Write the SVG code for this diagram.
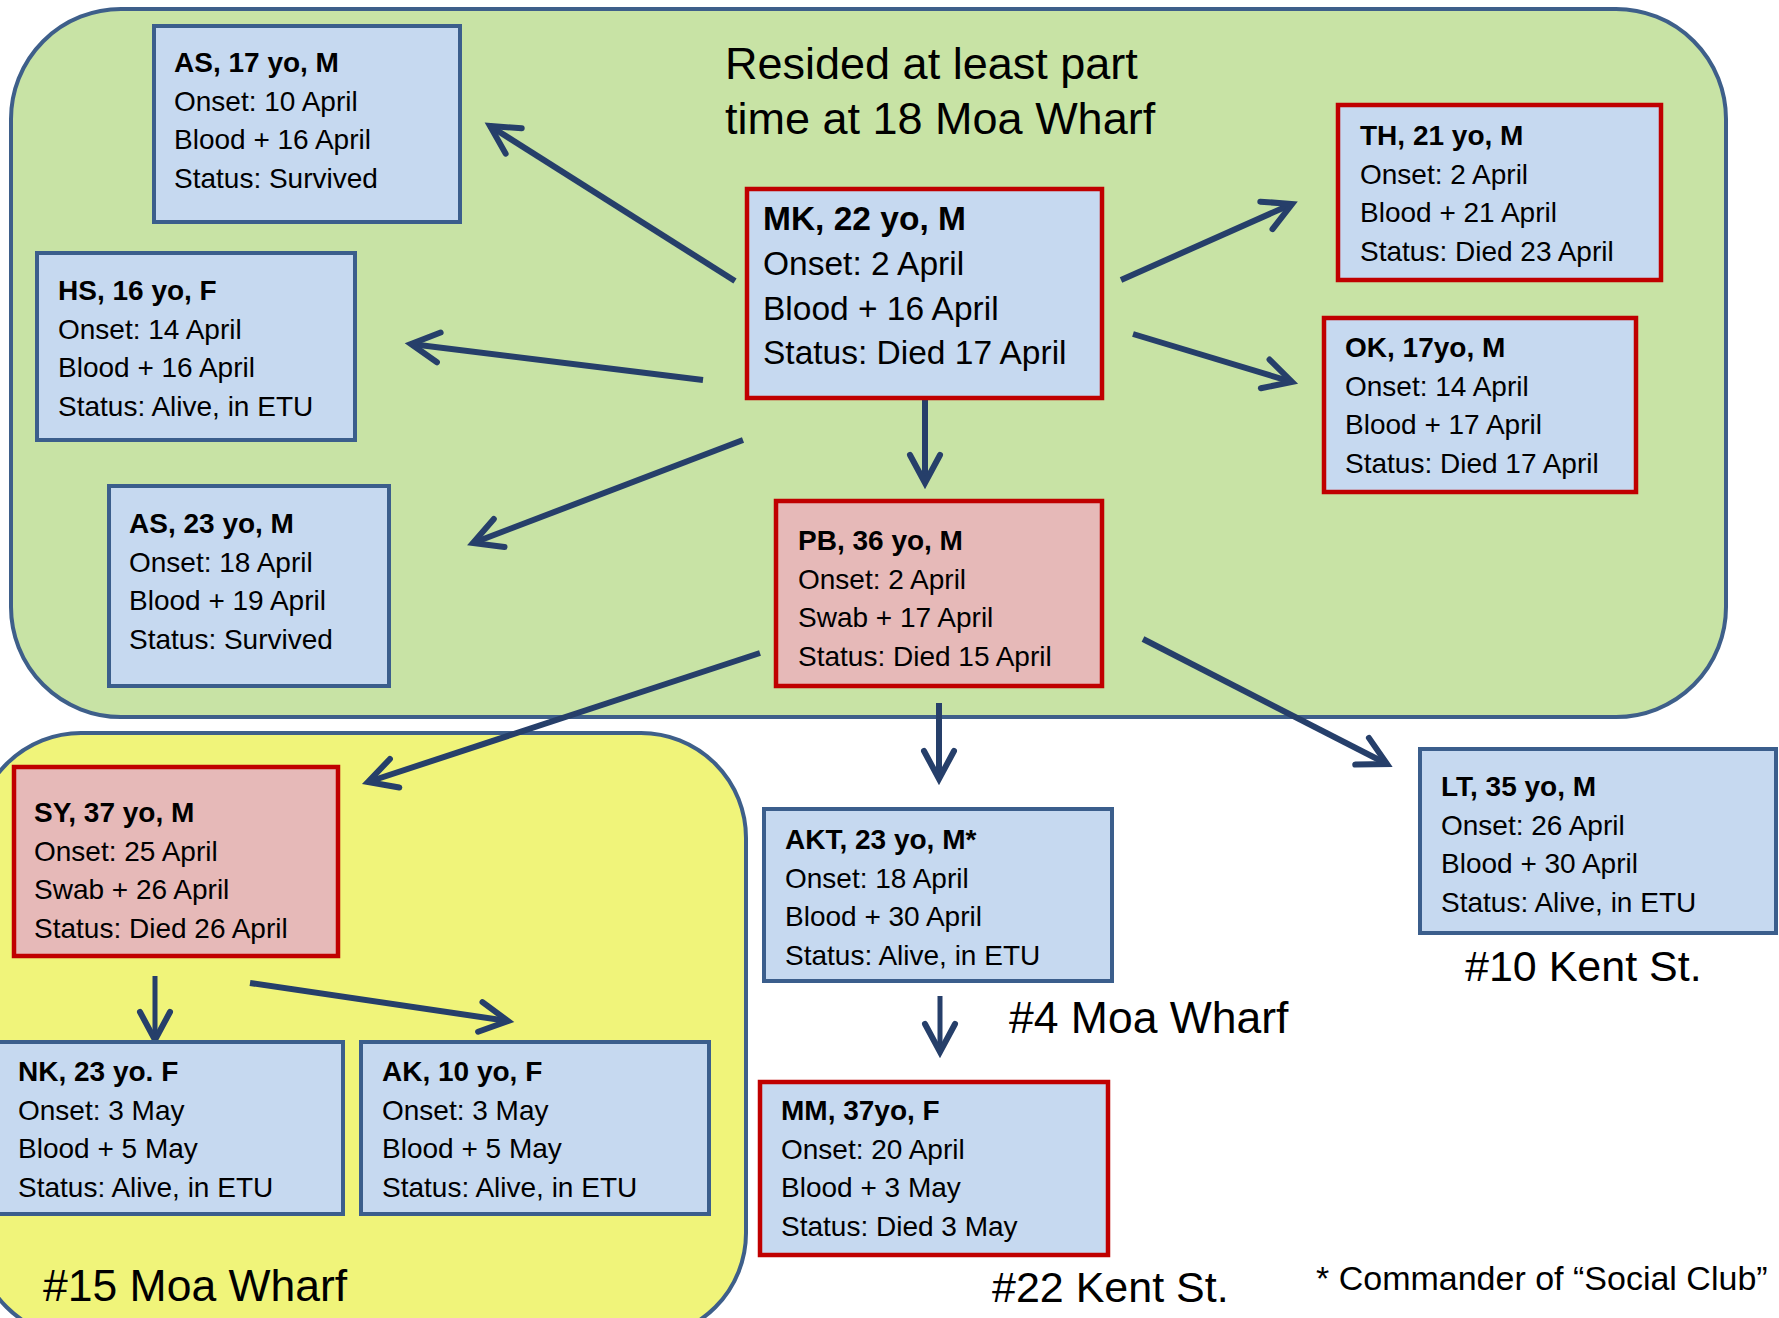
<svg xmlns="http://www.w3.org/2000/svg" width="1779" height="1318" viewBox="0 0 1779 1318">
<style>
  text { font-family: "Liberation Sans", Arial, sans-serif; fill: #000; }
  .b { font-size: 28px; }
  .big { font-size: 33.5px; }
  .t { font-weight: bold; }
  .box { fill: #c6d9f0; stroke: #3b5e8c; stroke-width: 4; }
  .red { fill: #c6d9f0; stroke: #c00000; stroke-width: 4.5; }
  .redf { fill: #e6b9b8; stroke: #c00000; stroke-width: 4.5; }
  .grp { stroke: #3e5f8a; stroke-width: 4; }
  .arr { fill: none; stroke: #263f6a; stroke-width: 6; marker-end: url(#ah); }
  .arr2 { fill: none; stroke: #263f6a; stroke-width: 5; marker-end: url(#ah); }
  .lbl { font-size: 43px; }
  .lbl2 { font-size: 44.5px; }
  .title { font-size: 45px; }
  .note { font-size: 34px; }
</style>
<defs>
  <marker id="ah" markerUnits="userSpaceOnUse" orient="auto" refX="0" refY="0" markerWidth="40" markerHeight="40" overflow="visible">
    <path d="M -28,-15 L 0,0 L -28,15" fill="none" stroke="#263f6a" stroke-width="6" stroke-linecap="round" stroke-linejoin="miter"/>
  </marker>
</defs>
<rect width="1779" height="1318" fill="#ffffff"/>

<g id="group-18-moa-wharf">
  <rect class="grp" x="11" y="9" width="1715" height="708" rx="110" ry="110" fill="#c8e3a5"/>
  <text class="title" x="725" y="79">Resided at least part</text>
  <text class="title" x="725" y="134">time at 18 Moa Wharf</text>
</g>
<g id="group-15-moa-wharf">
  <rect class="grp" x="-24" y="733" width="770" height="605" rx="105" ry="105" fill="#f0f47a"/>
  <text class="lbl2" x="43" y="1301">#15 Moa Wharf</text>
</g>

<g id="connectors">
  <line class="arr" x1="735" y1="281" x2="490" y2="126"/>
  <line class="arr" x1="703" y1="380" x2="411" y2="344"/>
  <line class="arr" x1="743" y1="440" x2="473" y2="543"/>
  <line class="arr" x1="1121" y1="280" x2="1292" y2="204"/>
  <line class="arr" x1="1133" y1="334" x2="1292" y2="382"/>
  <line class="arr" x1="925" y1="399" x2="925" y2="483"/>
  <line class="arr" x1="760" y1="653" x2="368" y2="782"/>
  <line class="arr" x1="939" y1="703" x2="939" y2="779"/>
  <line class="arr" x1="1143" y1="639" x2="1387" y2="764"/>
  <line class="arr2" x1="940" y1="996" x2="940" y2="1052"/>
  <line class="arr2" x1="155" y1="976" x2="155" y2="1040"/>
  <line class="arr" x1="250" y1="983" x2="508" y2="1021"/>
</g>

<g id="node-AS17">
  <rect class="box" x="154" y="26" width="306" height="196"/>
  <text class="b"><tspan class="t" x="174" y="72">AS, 17 yo, M</tspan><tspan x="174" y="110.5">Onset: 10 April</tspan><tspan x="174" y="149">Blood + 16 April</tspan><tspan x="174" y="187.5">Status: Survived</tspan></text>
</g>
<g id="node-HS">
  <rect class="box" x="37" y="253" width="318" height="187"/>
  <text class="b"><tspan class="t" x="58" y="300">HS, 16 yo, F</tspan><tspan x="58" y="338.5">Onset: 14 April</tspan><tspan x="58" y="377">Blood + 16 April</tspan><tspan x="58" y="415.5">Status: Alive, in ETU</tspan></text>
</g>
<g id="node-AS23">
  <rect class="box" x="109" y="486" width="280" height="200"/>
  <text class="b"><tspan class="t" x="129" y="533">AS, 23 yo, M</tspan><tspan x="129" y="571.5">Onset: 18 April</tspan><tspan x="129" y="610">Blood + 19 April</tspan><tspan x="129" y="648.5">Status: Survived</tspan></text>
</g>
<g id="node-MK">
  <rect class="red" x="747" y="189" width="355" height="209"/>
  <text class="big"><tspan class="t" x="763" y="230">MK, 22 yo, M</tspan><tspan x="763" y="275">Onset: 2 April</tspan><tspan x="763" y="319.5">Blood + 16 April</tspan><tspan x="763" y="364">Status: Died 17 April</tspan></text>
</g>
<g id="node-PB">
  <rect class="redf" x="776" y="501" width="326" height="185"/>
  <text class="b"><tspan class="t" x="798" y="550">PB, 36 yo, M</tspan><tspan x="798" y="588.5">Onset: 2 April</tspan><tspan x="798" y="627">Swab + 17 April</tspan><tspan x="798" y="665.5">Status: Died 15 April</tspan></text>
</g>
<g id="node-TH">
  <rect class="red" x="1338" y="105" width="323" height="175"/>
  <text class="b"><tspan class="t" x="1360" y="145">TH, 21 yo, M</tspan><tspan x="1360" y="183.5">Onset: 2 April</tspan><tspan x="1360" y="222">Blood + 21 April</tspan><tspan x="1360" y="260.5">Status: Died 23 April</tspan></text>
</g>
<g id="node-OK">
  <rect class="red" x="1324" y="318" width="312" height="174"/>
  <text class="b"><tspan class="t" x="1345" y="357">OK, 17yo, M</tspan><tspan x="1345" y="395.5">Onset: 14 April</tspan><tspan x="1345" y="434">Blood + 17 April</tspan><tspan x="1345" y="472.5">Status: Died 17 April</tspan></text>
</g>
<g id="node-SY">
  <rect class="redf" x="14" y="767" width="324" height="189"/>
  <text class="b"><tspan class="t" x="34" y="822">SY, 37 yo, M</tspan><tspan x="34" y="860.5">Onset: 25 April</tspan><tspan x="34" y="899">Swab + 26 April</tspan><tspan x="34" y="937.5">Status: Died 26 April</tspan></text>
</g>
<g id="node-NK">
  <rect class="box" x="-2" y="1042" width="345" height="172"/>
  <text class="b"><tspan class="t" x="18" y="1081">NK, 23 yo. F</tspan><tspan x="18" y="1119.5">Onset: 3 May</tspan><tspan x="18" y="1158">Blood + 5 May</tspan><tspan x="18" y="1196.5">Status: Alive, in ETU</tspan></text>
</g>
<g id="node-AK">
  <rect class="box" x="361" y="1042" width="348" height="172"/>
  <text class="b"><tspan class="t" x="382" y="1081">AK, 10 yo, F</tspan><tspan x="382" y="1119.5">Onset: 3 May</tspan><tspan x="382" y="1158">Blood + 5 May</tspan><tspan x="382" y="1196.5">Status: Alive, in ETU</tspan></text>
</g>
<g id="node-AKT">
  <rect class="box" x="764" y="809" width="348" height="172"/>
  <text class="b"><tspan class="t" x="785" y="849">AKT, 23 yo, M*</tspan><tspan x="785" y="887.5">Onset: 18 April</tspan><tspan x="785" y="926">Blood + 30 April</tspan><tspan x="785" y="964.5">Status: Alive, in ETU</tspan></text>
</g>
<g id="node-LT">
  <rect class="box" x="1420" y="749" width="356" height="184"/>
  <text class="b"><tspan class="t" x="1441" y="796">LT, 35 yo, M</tspan><tspan x="1441" y="834.5">Onset: 26 April</tspan><tspan x="1441" y="873">Blood + 30 April</tspan><tspan x="1441" y="911.5">Status: Alive, in ETU</tspan></text>
</g>
<g id="node-MM">
  <rect class="red" x="760" y="1082" width="348" height="173"/>
  <text class="b"><tspan class="t" x="781" y="1120">MM, 37yo, F</tspan><tspan x="781" y="1158.5">Onset: 20 April</tspan><tspan x="781" y="1197">Blood + 3 May</tspan><tspan x="781" y="1235.5">Status: Died 3 May</tspan></text>
</g>

<g id="labels">
  <text class="lbl" x="1465" y="981">#10 Kent St.</text>
  <text class="lbl2" x="1009" y="1033">#4 Moa Wharf</text>
  <text class="lbl" x="992" y="1302">#22 Kent St.</text>
  <text class="note" x="1316" y="1290">* Commander of “Social Club”</text>
</g>
</svg>
